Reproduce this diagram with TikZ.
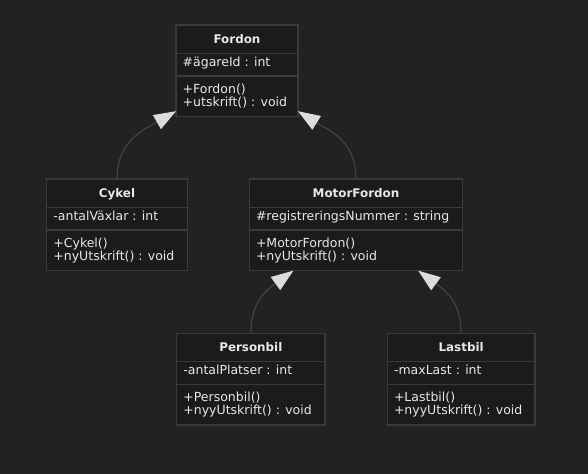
\documentclass[tikz,border=0pt]{standalone}
\usepackage{fontspec}
\setmainfont{DejaVu Sans}
\usetikzlibrary{arrows.meta}
\definecolor{bg}{HTML}{222222}
\definecolor{boxfill}{HTML}{1B1B1B}
\definecolor{boxline}{HTML}{3A3A3A}
\definecolor{conn}{HTML}{484848}
\definecolor{tipfill}{HTML}{DCDCDC}
\definecolor{txtc}{HTML}{E8E8E8}
\tikzset{
 classbox/.style={draw=boxline, fill=boxfill, line width=1.2pt, inner sep=0pt, outer sep=0pt, minimum height=91.7pt, anchor=north west},
 sepline/.style={draw=boxline, line width=1.2pt},
 hdr/.style={text=txtc, font=\fontsize{11.9}{13}\selectfont\bfseries, inner sep=0pt, anchor=base},
 txt/.style={text=txtc, font=\fontsize{12.5}{13}\selectfont, inner sep=0pt, anchor=base west},
 inh/.style={draw=conn, line width=1pt, -{Triangle[length=22pt,width=16pt,color=tipfill]}},
}
\newcommand\umlClass[8]{%
 \node[classbox, minimum width=#4pt] (#1) at (#2,#3) {};
 \draw[sepline] ([yshift=-28.3pt]#1.north west) -- ([yshift=-28.3pt]#1.north east);
 \draw[sepline] ([yshift=-51pt]#1.north west) -- ([yshift=-51pt]#1.north east);
 \node[hdr] (#1-title) at ([yshift=-18.6pt]#1.north) {#5};
 \node[txt] (#1-attr) at ([xshift=6.5pt,yshift=-41pt]#1.north west) {#6};
 \node[txt] (#1-m1) at ([xshift=6.5pt,yshift=-68.5pt]#1.north west) {#7};
 \node[txt] (#1-m2) at ([xshift=6.5pt,yshift=-81.2pt]#1.north west) {#8};
}
\begin{document}
\begin{tikzpicture}[x=1pt,y=-1pt]
\fill[bg] (0,0) rectangle (588,474);
\useasboundingbox (0,0) rectangle (588,474);
\umlClass{fordon}{176}{25}{122}{Fordon}{\#ägareId : int}{+Fordon()}{+utskrift() : void}
\umlClass{cykel}{46.7}{179}{140.6}{Cykel}{-antalVäxlar : int}{+Cykel()}{+nyUtskrift() : void}
\umlClass{mf}{249.3}{179}{213.4}{MotorFordon}{\#registreringsNummer : string}{+MotorFordon()}{+nyUtskrift() : void}
\umlClass{pb}{176.7}{333.3}{148.3}{Personbil}{-antalPlatser : int}{+Personbil()}{+nyyUtskrift() : void}
\umlClass{lb}{387.3}{333.3}{147.7}{Lastbil}{-maxLast : int}{+Lastbil()}{+nyyUtskrift() : void}
\draw[inh] (cykel.north) .. controls (117,140) and (145,129) .. ([yshift=5.5pt]fordon.south west);
\draw[inh] (mf.north) .. controls (356,140) and (328,130) .. ([yshift=5.5pt]fordon.south east);
\draw[inh] (pb.north) .. controls (251,300) and (268,289) .. ([xshift=44pt]mf.south west);
\draw[inh] (lb.north) .. controls (461,300) and (443,289) .. ([xshift=-44.4pt]mf.south east);
\end{tikzpicture}
\end{document}
